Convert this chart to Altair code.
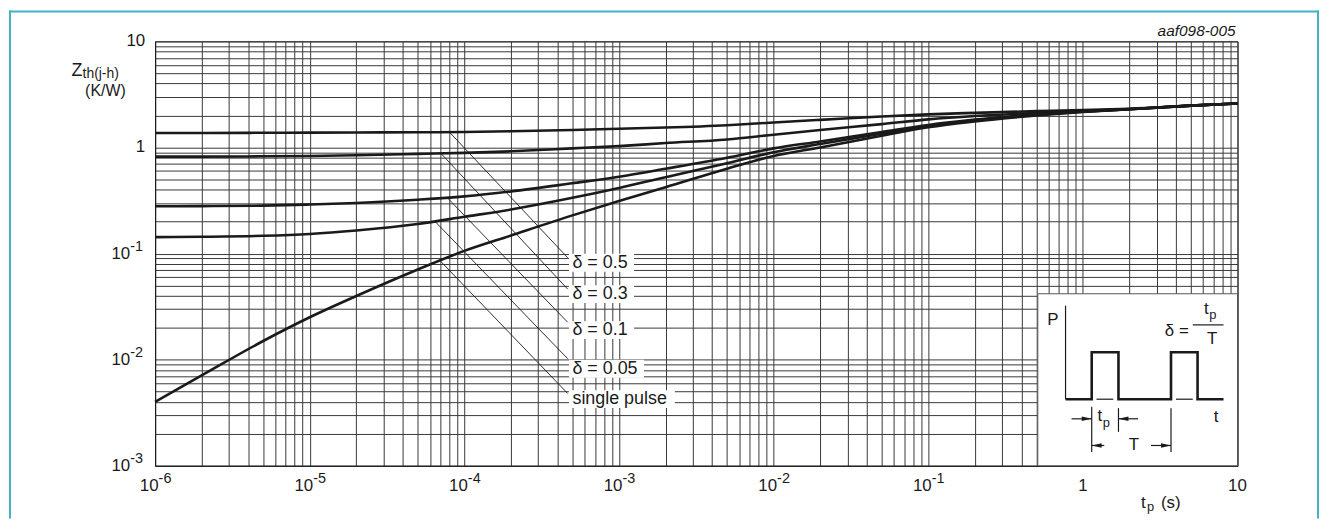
import numpy as np
import pandas as pd
import altair as alt

FONT = "Liberation Sans, Arial, Helvetica, sans-serif"
INK = "#1a1a1a"
FRAME = "#45aec8"

# ---------------- data ----------------
tp = [1e-6, 2e-6, 5e-6, 1e-5, 2e-5, 5e-5, 1e-4, 2e-4, 5e-4, 1e-3, 2e-3, 5e-3,
      1e-2, 2e-2, 5e-2, 0.1, 0.2, 0.5, 1, 2, 5, 10]
z_d05 = [1.37, 1.37, 1.375, 1.38, 1.385, 1.39, 1.40, 1.42, 1.46, 1.50, 1.54, 1.62,
         1.72, 1.82, 1.96, 2.05, 2.12, 2.20, 2.25, 2.32, 2.48, 2.60]
z_d03 = [0.82, 0.82, 0.825, 0.83, 0.845, 0.87, 0.89, 0.92, 0.98, 1.03, 1.10, 1.19,
         1.32, 1.46, 1.66, 1.84, 1.98, 2.12, 2.21, 2.30, 2.48, 2.60]
z_d01 = [0.279, 0.28, 0.283, 0.29, 0.30, 0.322, 0.346, 0.385, 0.46, 0.53, 0.63, 0.80,
         0.98, 1.14, 1.40, 1.63, 1.83, 2.05, 2.18, 2.29, 2.48, 2.60]
z_d005 = [0.143, 0.144, 0.147, 0.153, 0.165, 0.19, 0.222, 0.26, 0.335, 0.415, 0.525, 0.71,
          0.90, 1.08, 1.35, 1.59, 1.80, 2.03, 2.17, 2.29, 2.48, 2.60]
z_single = [0.0040, 0.0071, 0.0150, 0.0251, 0.0398, 0.0708, 0.106, 0.148, 0.229, 0.313, 0.422, 0.631,
            0.83, 1.00, 1.29, 1.55, 1.76, 2.00, 2.16, 2.29, 2.48, 2.60]

series_names = ["δ = 0.5", "δ = 0.3", "δ = 0.1", "δ = 0.05", "single pulse"]
series_values = [z_d05, z_d03, z_d01, z_d005, z_single]

# leader lines from each curve to its label
lead_tp_start = [8.1e-5, 7.1e-5, 7.8e-5, 6.5e-5, 7.0e-5]
lead_z_start = [1.37, 0.87, 0.333, 0.199, 0.085]
lead_tp_end = [4.66e-4, 4.66e-4, 4.66e-4, 4.66e-4, 4.66e-4]
lead_z_end = [0.0914, 0.0462, 0.0225, 0.0102, 0.0048]
label_tp = [5.0e-4, 5.0e-4, 5.0e-4, 5.0e-4, 5.0e-4]
label_z = [0.082, 0.0415, 0.019, 0.0082, 0.00425]
label_box_width = [62, 62, 62, 72, 103]

x_exponents = [-6, -5, -4, -3, -2, -1, 0, 1]
y_exponents = [-3, -2, -1, 0, 1]
x_grid = [k * 10.0 ** e for e in range(-6, 1) for k in range(1, 10)] + [10.0]
y_grid = [k * 10.0 ** e for e in range(-3, 1) for k in range(1, 10)] + [10.0]

# inset box (pulse schematic) extent in chart units
inset_tp = [0.511, 10.0]
inset_z = [0.0418, 0.001]
# schematic in fractions of the inset box (u: left->right, v: top->bottom)
signal_u = [0.139, 0.27, 0.27, 0.404, 0.404, 0.667, 0.667, 0.80, 0.80, 0.93]
signal_v = [0.613, 0.613, 0.34, 0.34, 0.613, 0.613, 0.34, 0.34, 0.613, 0.613]
thin_segments = [  # u0, v0, u1, v1
    (0.139, 0.069, 0.139, 0.613),
    (0.294, 0.613, 0.378, 0.613), (0.692, 0.613, 0.776, 0.613),
    (0.27, 0.657, 0.27, 0.92), (0.404, 0.665, 0.404, 0.803), (0.667, 0.665, 0.667, 0.92),
    (0.169, 0.727, 0.27, 0.727), (0.404, 0.727, 0.502, 0.727),
    (0.27, 0.882, 0.333, 0.882), (0.567, 0.882, 0.667, 0.882),
    (0.776, 0.181, 0.930, 0.181),
]
arrows_right = [(0.27, 0.727), (0.667, 0.882)]
arrows_left = [(0.404, 0.727), (0.27, 0.882)]
inset_texts = [  # text, u, v, font size
    ("P", 0.075, 0.152, 17), ("t", 0.893, 0.715, 17), ("δ =", 0.696, 0.214, 17),
    ("t", 0.844, 0.087, 17), ("p", 0.876, 0.122, 13), ("T", 0.873, 0.262, 17),
    ("t", 0.311, 0.712, 17), ("p", 0.343, 0.752, 13), ("T", 0.481, 0.882, 17),
]

# ---------------- helpers ----------------
def inset_pos(u, v):
    lx0, lx1 = np.log10(inset_tp)
    ly0, ly1 = np.log10(inset_z)
    return 10 ** (lx0 + u * (lx1 - lx0)), 10 ** (ly0 + v * (ly1 - ly0))

GRID = "#383838"
AX = alt.Axis(values=x_grid, labels=False, ticks=False, title="", grid=True,
              gridColor=GRID, gridWidth=1, domainColor=INK, domainWidth=1)
AY = alt.Axis(values=y_grid, labels=False, ticks=False, title="", grid=True,
              gridColor=GRID, gridWidth=1, domainColor=INK, domainWidth=1)
XS = alt.Scale(type="log", domain=[1e-6, 10], nice=False)
YS = alt.Scale(type="log", domain=[1e-3, 10], nice=False)


def X(f):
    return alt.X(f"{f}:Q", scale=XS, axis=AX)


def Y(f):
    return alt.Y(f"{f}:Q", scale=YS, axis=AY)


one = pd.DataFrame({"k": [0]})

# ---------------- curves ----------------
curve_df = pd.DataFrame([
    {"series": s, "tp": t, "z": z}
    for s, vals in zip(series_names, series_values)
    for t, z in zip(tp, vals)
])
curves = alt.Chart(curve_df).mark_line(color=INK, strokeWidth=2.6, interpolate="monotone").encode(
    x=X("tp"), y=Y("z"), detail="series:N")

lead_df = pd.DataFrame({"x0": lead_tp_start, "y0": lead_z_start,
                        "x1": lead_tp_end, "y1": lead_z_end})
leaders = alt.Chart(lead_df).mark_rule(color=INK, strokeWidth=0.9).encode(
    x=X("x0"), y=Y("y0"), x2="x1", y2="y1")

lab_df = pd.DataFrame({"label": series_names, "tp": label_tp, "z": label_z})
label_layers = []
for name, w in zip(series_names, label_box_width):
    label_layers.append(
        alt.Chart(lab_df).transform_filter(alt.datum.label == name)
        .mark_rect(color="white", xOffset=-3.5, x2Offset=w, yOffset=-9, y2Offset=9)
        .encode(x=X("tp"), x2="tp", y=Y("z"), y2="z"))
label_text = alt.Chart(lab_df).mark_text(align="left", baseline="middle", font=FONT,
                                          fontSize=18, color=INK).encode(
    x=X("tp"), y=Y("z"), text="label:N")

# ---------------- inset ----------------
box_df = pd.DataFrame({"x0": [inset_tp[0]], "x1": [inset_tp[1]],
                       "y0": [inset_z[0]], "y1": [inset_z[1]]})
box = alt.Chart(box_df).mark_rect(fill="white", stroke="#555555", strokeWidth=1).encode(
    x=X("x0"), x2="x1", y=Y("y0"), y2="y1")

sx, sy = inset_pos(np.array(signal_u), np.array(signal_v))
sig_df = pd.DataFrame({"x": sx, "y": sy, "o": range(len(sx))})
signal = alt.Chart(sig_df).mark_line(color=INK, strokeWidth=2.6, strokeJoin="miter").encode(
    x=X("x"), y=Y("y"), order="o:Q")

seg_rows = []
for u0, v0, u1, v1 in thin_segments:
    a = inset_pos(u0, v0)
    b = inset_pos(u1, v1)
    seg_rows.append({"x0": a[0], "y0": a[1], "x1": b[0], "y1": b[1]})
segs = alt.Chart(pd.DataFrame(seg_rows)).mark_rule(color=INK, strokeWidth=1.2).encode(
    x=X("x0"), y=Y("y0"), x2="x1", y2="y1")

def arrow_layer(pts, path):
    xy = [inset_pos(u, v) for u, v in pts]
    df = pd.DataFrame({"x": [p[0] for p in xy], "y": [p[1] for p in xy]})
    return alt.Chart(df).mark_point(shape=path, size=100, filled=True, color=INK, opacity=1).encode(
        x=X("x"), y=Y("y"))

arr_r = arrow_layer(arrows_right, "M0,0L-2,-0.45L-2,0.45Z")
arr_l = arrow_layer(arrows_left, "M0,0L2,-0.45L2,0.45Z")

it_rows = []
for t, u, v, s in inset_texts:
    p = inset_pos(u, v)
    it_rows.append({"t": t, "x": p[0], "y": p[1], "s": s})
inset_text = alt.Chart(pd.DataFrame(it_rows)).mark_text(
    align="center", baseline="middle", font=FONT, color=INK).encode(
    x=X("x"), y=Y("y"), text="t:N", size=alt.Size("s:Q", scale=None))

# ---------------- tick labels ----------------
xt = pd.DataFrame({"v": [10.0 ** e for e in x_exponents],
                   "base": ["10" if e != 0 else "1" for e in x_exponents],
                   "sup": [str(e) if e < 0 else "" for e in x_exponents],
                   "e": x_exponents})
yt = pd.DataFrame({"v": [10.0 ** e for e in y_exponents],
                   "base": ["10" if e != 0 else "1" for e in y_exponents],
                   "sup": [str(e) if e < 0 else "" for e in y_exponents],
                   "e": y_exponents})

xl_pow = alt.Chart(xt).transform_filter("datum.e < 0").mark_text(
    align="right", baseline="middle", dx=3.5, font=FONT, fontSize=17, color=INK).encode(
    x=X("v"), y=alt.value(447), text="base:N")
xl_sup = alt.Chart(xt).transform_filter("datum.e < 0").mark_text(
    align="left", baseline="middle", dx=3.5, dy=-7, font=FONT, fontSize=14.5, color=INK).encode(
    x=X("v"), y=alt.value(447), text="sup:N")
xl_plain = alt.Chart(xt).transform_filter("datum.e >= 0").mark_text(
    align="center", baseline="middle", font=FONT, fontSize=17, color=INK).encode(
    x=X("v"), y=alt.value(447), text="base:N")

yl_pow = alt.Chart(yt).transform_filter("datum.e < 0").mark_text(
    align="right", baseline="middle", font=FONT, fontSize=17, color=INK).encode(
    x=alt.value(-25), y=Y("v"), text="base:N")
yl_sup = alt.Chart(yt).transform_filter("datum.e < 0").mark_text(
    align="left", baseline="middle", dy=-7, font=FONT, fontSize=14.5, color=INK).encode(
    x=alt.value(-25), y=Y("v"), text="sup:N")
yl_plain = alt.Chart(yt).transform_filter("datum.e >= 0").mark_text(
    align="right", baseline="middle", font=FONT, fontSize=17, color=INK).encode(
    x=alt.value(-10), y=Y("v"), text="base:N")

# ---------------- titles ----------------
def txt(text, x, y, size, align="left", style="normal"):
    return alt.Chart(one).mark_text(text=text, align=align, baseline="middle", font=FONT,
                                    fontSize=size, fontStyle=style, color=INK).encode(
        x=alt.value(x), y=alt.value(y))

titles = [
    txt("Z", -84, 30, 18),
    txt("th(j-h)", -73, 33, 14),
    txt("(K/W)", -50, 50, 16, align="center"),
    txt("t", 992, 464, 17),
    txt("p", 998, 468, 13),
    txt("(s)", 1012, 464, 17),
    txt("aaf098-005", 1087, -10, 15.5, align="right", style="italic"),
]

# ---------------- frame ----------------
frame = [
    alt.Chart(one).mark_rule(color=FRAME, strokeWidth=2).encode(
        x=alt.value(-146), y=alt.value(-31), y2=alt.value(480)),
    alt.Chart(one).mark_rule(color=FRAME, strokeWidth=2).encode(
        x=alt.value(-147), x2=alt.value(1171), y=alt.value(-30)),
    alt.Chart(one).mark_rule(color=FRAME, strokeWidth=2).encode(
        x=alt.value(1170), y=alt.value(-31), y2=alt.value(480)),
]

chart = alt.layer(
    curves, leaders, *label_layers, label_text,
    box, segs, signal, arr_r, arr_l, inset_text,
    xl_pow, xl_sup, xl_plain, yl_pow, yl_sup, yl_plain,
    *titles, *frame,
).properties(width=1089, height=427, padding=0, background="white").configure_view(
    stroke=INK, strokeWidth=1)

chart.save("out.html", embed_options={"renderer": "svg", "actions": False})
